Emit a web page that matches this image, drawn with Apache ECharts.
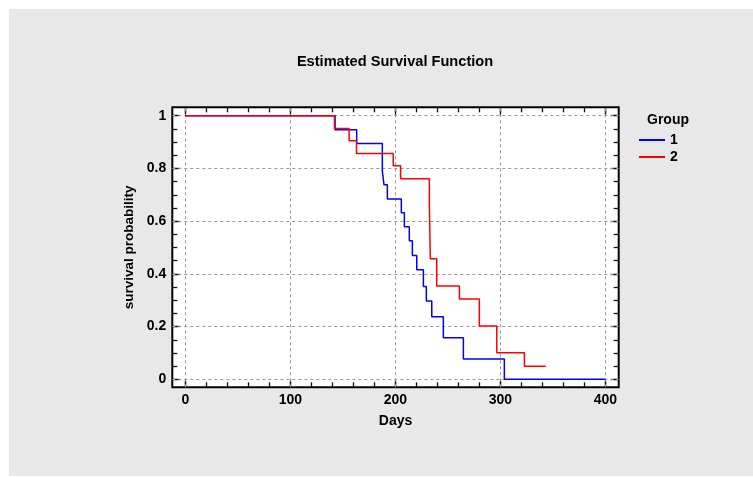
<!DOCTYPE html>
<html>
<head>
<meta charset="utf-8">
<script src="https://cdn.jsdelivr.net/npm/echarts@6/dist/echarts.min.js"></script>
<style>html,body{margin:0;padding:0;background:#fff;}#c{width:753px;height:477px;}</style>
</head>
<body>
<div id="c"></div>
<script>
// ---- data ----
var group1Days = [0, 142.6, 163.2, 187.6, 189.2, 192.4, 205.7, 208.6, 213.3, 216.2, 220.4, 226.7, 229.5, 234.7, 245.7, 264.8, 303.8, 400];
var group1Surv = [1, 0.947, 0.895, 0.791, 0.738, 0.684, 0.632, 0.579, 0.526, 0.47, 0.416, 0.352, 0.297, 0.237, 0.158, 0.077, 0, 0];
var group2Days = [0, 142, 156, 163, 198, 205, 232.4, 233.3, 239.4, 261, 280, 296.6, 322.9, 343.2];
var group2Surv = [1, 0.952, 0.905, 0.857, 0.81, 0.761, 0.661, 0.457, 0.354, 0.305, 0.202, 0.101, 0.05, 0.05];
var xMajorTicks = [0, 100, 200, 300, 400];
var xMinorTicks = [0, 20, 40, 60, 80, 100, 120, 140, 160, 180, 200, 220, 240, 260, 280, 300, 320, 340, 360, 380, 400];
var yMajorTicks = [0, 0.2, 0.4, 0.6, 0.8, 1];
var yMinorTicks = [0, 0.05, 0.1, 0.15, 0.2, 0.25, 0.3, 0.35, 0.4, 0.45, 0.5, 0.55, 0.6, 0.65, 0.7, 0.75, 0.8, 0.85, 0.9, 0.95, 1];
var legendNames = ['1', '2'];

var font = 'Liberation Sans, Arial, sans-serif';
var XMIN = -12.4, XMAX = 412.7, YMIN = -0.0303, YMAX = 1.032;
var gridRect = {left: 172.3, top: 107.3, width: 446.4, height: 280};

function pairs(xs, ys) { return xs.map(function (x, i) { return [x, ys[i]]; }); }

function mkGrid(show) {
  var g = {left: gridRect.left, top: gridRect.top, width: gridRect.width, height: gridRect.height, containLabel: false};
  if (show) { g.show = true; g.backgroundColor = '#fff'; g.borderColor = '#000'; g.borderWidth = 2; }
  return g;
}
function mkAxis(kind, gridIndex, position, ticks, len, labels, extra) {
  var a = {
    type: 'value', gridIndex: gridIndex, position: position,
    min: kind === 'x' ? XMIN : YMIN, max: kind === 'x' ? XMAX : YMAX,
    axisLine: {show: false, onZero: false},
    axisTick: {show: true, inside: true, length: len, customValues: ticks, lineStyle: {color: '#111', width: 1.3}},
    axisLabel: labels ? {show: true, customValues: ticks, color: '#000', fontSize: 14, fontWeight: 'bold', fontFamily: font, margin: 6} : {show: false},
    splitLine: {show: false}
  };
  if (extra) for (var k in extra) a[k] = extra[k];
  return a;
}

var chart = echarts.init(document.getElementById('c'), null, {renderer: 'canvas'});
chart.setOption({
  backgroundColor: '#fff',
  animation: false,
  graphic: [
    {type: 'rect', z: -10, shape: {x: 9, y: 9, width: 744, height: 467}, style: {fill: '#e8e8e8'}},
    {type: 'text', left: 647, top: 113, style: {text: 'Group', fill: '#000', font: 'bold 14px ' + font}}
  ],
  title: {
    text: 'Estimated Survival Function', left: 390, top: 49, textAlign: 'center',
    textStyle: {fontSize: 14.6, fontWeight: 'bold', color: '#000', fontFamily: font}
  },
  legend: {
    data: legendNames, orient: 'vertical', left: 634, top: 128, itemWidth: 26, itemHeight: 2, itemGap: 3,
    icon: 'rect',
    textStyle: {fontSize: 14, fontWeight: 'bold', color: '#000', fontFamily: font}
  },
  grid: [mkGrid(true), mkGrid(false), mkGrid(false), mkGrid(false)],
  xAxis: [
    mkAxis('x', 0, 'bottom', xMajorTicks, 8, true, {name: 'Days', nameLocation: 'middle', nameGap: 27, nameTextStyle: {fontSize: 14, fontWeight: 'bold', color: '#000', fontFamily: font}}),
    mkAxis('x', 1, 'bottom', xMinorTicks, 5, false),
    mkAxis('x', 2, 'top', xMajorTicks, 8, false),
    mkAxis('x', 3, 'top', xMinorTicks, 5, false)
  ],
  yAxis: [
    mkAxis('y', 0, 'left', yMajorTicks, 8, true, {name: 'survival probability', nameLocation: 'middle', nameGap: 33, nameTextStyle: {fontSize: 13.5, fontWeight: 'bold', color: '#000', fontFamily: font}}),
    mkAxis('y', 1, 'left', yMinorTicks, 5, false),
    mkAxis('y', 2, 'right', yMajorTicks, 8, false),
    mkAxis('y', 3, 'right', yMinorTicks, 5, false)
  ],
  series: [
    {
      type: 'line', name: 'gridlines', xAxisIndex: 0, yAxisIndex: 0, data: [], z: 1, silent: true,
      markLine: {
        silent: true, z: 1, symbol: ['none', 'none'], label: {show: false}, animation: false,
        lineStyle: {color: '#999', type: [3, 3], width: 1},
        data: xMajorTicks.map(function (v) { return {xAxis: v}; }).concat(yMajorTicks.map(function (v) { return {yAxis: v}; }))
      }
    },
    {
      type: 'line', name: legendNames[0], step: 'end', xAxisIndex: 0, yAxisIndex: 0, z: 3,
      showSymbol: false, symbol: 'none', color: '#0000ff',
      lineStyle: {color: '#0000ff', width: 1.5},
      data: pairs(group1Days, group1Surv)
    },
    {
      type: 'line', name: legendNames[1], step: 'end', xAxisIndex: 0, yAxisIndex: 0, z: 4,
      showSymbol: false, symbol: 'none', color: '#ff0000',
      lineStyle: {color: '#ff0000', width: 1.5},
      data: pairs(group2Days, group2Surv)
    }
  ]
});
</script>
</body>
</html>
